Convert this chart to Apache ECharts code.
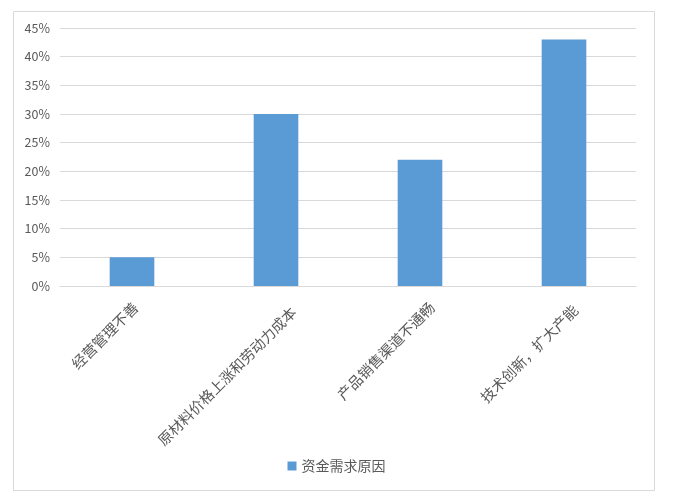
<!DOCTYPE html>
<html>
<head>
<meta charset="utf-8">
<script src="https://cdn.jsdelivr.net/npm/echarts@6/dist/echarts.min.js"></script>
<style>
  html, body { margin: 0; padding: 0; background: #fff; }
  #chart { width: 673px; height: 497px; }
</style>
</head>
<body>
<div id="chart"></div>
<script>
// Kategoriyalar va qiymatlar (foizda)
const categories = ['经营管理不善', '原材料价格上涨和劳动力成本', '产品销售渠道不通畅', '技术创新，扩大产能'];
const values = [5, 30, 22, 43];
const seriesName = '资金需求原因';

const fontFamily = "'Noto Sans CJK SC', 'Microsoft YaHei', sans-serif";

// Burilgan yorliqlarni Excel uslubida surish (padding: [yuqori, o'ng, 0, 0])
const labelShift = [[23, 6.5], [50, 0], [35, 0.5], [38, 3]];
const labelRich = {};
labelShift.forEach((p, i) => {
    labelRich['c' + i] = {
        color: '#595959',
        fontSize: 14.5,
        fontFamily: fontFamily,
        padding: [p[0], p[1], 0, 0]
    };
});

const myChart = echarts.init(document.getElementById('chart'));

const option = {
    backgroundColor: '#fff',
    textStyle: { fontFamily: fontFamily },
    graphic: [{
        type: 'rect',
        shape: { x: 13.5, y: 11.5, width: 641, height: 479 },
        style: { fill: 'none', stroke: '#d9d9d9', lineWidth: 1 },
        silent: true
    }],
    grid: { left: 60, right: 37, top: 28, bottom: 211 },
    legend: {
        data: [seriesName],
        top: 459,
        left: 'center',
        padding: 0,
        icon: 'rect',
        itemWidth: 9,
        itemHeight: 9,
        itemGap: 4,
        textStyle: { color: '#595959', fontSize: 14, fontFamily: fontFamily, padding: [0, 0, 0, 0] }
    },
    xAxis: {
        type: 'category',
        data: categories,
        axisLine: { lineStyle: { color: '#d9d9d9', width: 1 } },
        axisTick: { show: false },
        axisLabel: {
            interval: 0,
            rotate: 45,
            margin: 6,
            formatter: (value, index) => '{c' + index + '|' + value + '}',
            rich: labelRich
        }
    },
    yAxis: {
        type: 'value',
        min: 0,
        max: 45,
        interval: 5,
        axisLine: { show: false },
        axisTick: { show: false },
        splitLine: { lineStyle: { color: '#d9d9d9', width: 1 } },
        axisLabel: {
            formatter: '{value}%',
            color: '#595959',
            fontSize: 12.5,
            margin: 10,
            fontFamily: fontFamily
        }
    },
    series: [{
        name: seriesName,
        type: 'bar',
        data: values,
        barWidth: '31%',
        itemStyle: { color: '#5b9bd5' }
    }]
};

myChart.setOption(option);
</script>
</body>
</html>
